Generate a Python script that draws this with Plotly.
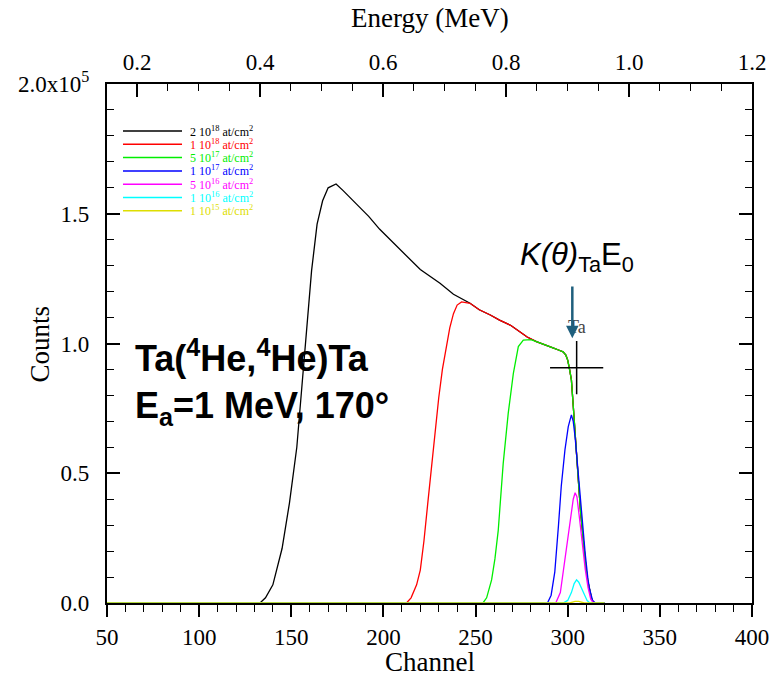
import plotly.graph_objects as go

# ---------------- data ----------------
# channel <-> energy calibration
ENERGY_AT_CH50 = 0.151
ENERGY_AT_CH400 = 1.2

series_names = [
    "2 10<sup>18</sup> at/cm<sup>2</sup>",
    "1 10<sup>18</sup> at/cm<sup>2</sup>",
    "5 10<sup>17</sup> at/cm<sup>2</sup>",
    "1 10<sup>17</sup> at/cm<sup>2</sup>",
    "5 10<sup>16</sup> at/cm<sup>2</sup>",
    "1 10<sup>16</sup> at/cm<sup>2</sup>",
    "1 10<sup>15</sup> at/cm<sup>2</sup>",
]
series_colors = ["#000000", "#ff0000", "#00ee00", "#0000ff", "#ff00ff", "#00ffff", "#dede00"]

# common high-energy part (surface edge) shared by the thick layers (counts in 1e5)
edge_ch = [247, 252, 258, 263, 269, 274, 278, 283, 288, 292, 295, 297.5, 299, 300, 301, 302,
           303, 304, 305, 306, 307, 308, 309, 310, 311, 312, 313, 314, 320]
edge_counts = [1.155, 1.13, 1.11, 1.09, 1.07, 1.045, 1.025, 1.007, 0.995, 0.983, 0.975, 0.968,
               0.955, 0.936, 0.90, 0.86, 0.76, 0.64, 0.55, 0.45, 0.35, 0.27, 0.20, 0.13, 0.08,
               0.04, 0.015, 0.0, 0.0]

black_ch = [50, 133, 136, 140, 145, 149, 153, 156, 158.5, 161, 164, 167, 170, 174.3, 178,
            185, 192, 198, 205, 213, 220, 230.7, 238]
black_counts = [0, 0, 0.02, 0.07, 0.21, 0.385, 0.60, 0.85, 1.064, 1.28, 1.46, 1.55, 1.60,
                1.615, 1.59, 1.54, 1.49, 1.44, 1.39, 1.333, 1.285, 1.232, 1.19]

red_ch = [50, 212.5, 215, 218, 220, 222, 224, 226, 228, 230, 232, 234, 236, 238, 240, 242.4]
red_counts = [0, 0, 0.02, 0.07, 0.127, 0.24, 0.38, 0.52, 0.66, 0.79, 0.90, 0.98, 1.06,
              1.115, 1.148, 1.16]

green_ch = [50, 254, 256, 258.7, 260.5, 262.3, 265, 267.7, 270.5, 273.2, 275.9, 277.7, 280]
green_counts = [0, 0, 0.02, 0.089, 0.17, 0.28, 0.538, 0.73, 0.885, 0.988, 1.013, 1.015, 1.015]

blue_ch = [50, 289, 291, 293, 295, 296.5, 298.5, 300.3, 302, 303, 304, 305, 306.5, 308,
           309.5, 311, 312, 313.5, 315, 320]
blue_counts = [0, 0, 0.03, 0.12, 0.30, 0.45, 0.59, 0.68, 0.725, 0.70, 0.64, 0.56, 0.42,
               0.29, 0.19, 0.09, 0.05, 0.01, 0, 0]

magenta_ch = [50, 293.5, 296, 298.5, 300, 301.5, 303, 304, 305, 306.5, 308, 309.5, 311,
              312.5, 314, 320]
magenta_counts = [0, 0, 0.04, 0.17, 0.25, 0.33, 0.40, 0.425, 0.41, 0.32, 0.22, 0.13, 0.06,
                  0.015, 0, 0]

cyan_ch = [50, 297.5, 300, 302, 303.5, 304.8, 306, 307.5, 309, 310.5, 312, 320]
cyan_counts = [0, 0, 0.01, 0.04, 0.075, 0.089, 0.08, 0.055, 0.03, 0.01, 0, 0]

yellow_ch = [50, 301, 304, 306, 309, 320]
yellow_counts = [0, 0, 0.006, 0.006, 0, 0]

# Ta surface marker (channel, counts) and arrow
ta_mark_ch, ta_mark_counts = 304.85, 0.907
arrow_ch, arrow_tip, arrow_tail = 302.5, 1.02, 1.225

# ---------------- figure ----------------
series = [
    (black_ch + edge_ch, black_counts + edge_counts),
    (red_ch + edge_ch, red_counts + edge_counts),
    (green_ch + edge_ch[7:], green_counts + edge_counts[7:]),
    (blue_ch, blue_counts),
    (magenta_ch, magenta_counts),
    (cyan_ch, cyan_counts),
    (yellow_ch, yellow_counts),
]

SERIF = "Liberation Serif"
SANS = "Liberation Sans"

fig = go.Figure()
for (xs, ys), name, col in zip(series, series_names, series_colors):
    fig.add_trace(go.Scatter(x=xs, y=ys, mode="lines", name=name,
                             line=dict(color=col, width=1.3), showlegend=False))

# invisible trace to bind top energy axis
fig.add_trace(go.Scatter(x=[ENERGY_AT_CH50, ENERGY_AT_CH400], y=[0, 0], xaxis="x2", yaxis="y",
                         mode="lines", line=dict(width=0), hoverinfo="skip", showlegend=False))

# crosshair marker
fig.add_trace(go.Scatter(x=[ta_mark_ch], y=[ta_mark_counts], mode="markers",
                         marker=dict(symbol="cross-thin", size=38,
                                     line=dict(color="black", width=1.5)),
                         showlegend=False, hoverinfo="skip"))

axis_common = dict(showgrid=False, zeroline=False, showline=True, linecolor="black",
                   linewidth=2.2, tickcolor="black", tickwidth=1.5,
                   tickfont=dict(family=SERIF, size=23, color="black"))

fig.update_layout(
    width=780, height=694,
    margin=dict(l=107, r=28, t=84, b=91),
    paper_bgcolor="white", plot_bgcolor="white",
    showlegend=False,
    xaxis=dict(range=[50, 400], tick0=50, dtick=50, ticks="outside", ticklen=12,
               minor=dict(dtick=10, tick0=50, ticks="outside", ticklen=7, tickwidth=1.2,
                          tickcolor="black"),
               **axis_common),
    xaxis2=dict(range=[ENERGY_AT_CH50, ENERGY_AT_CH400], overlaying="x", side="top",
                anchor="y", tick0=0.2, dtick=0.2, tickformat=".1f", ticks="inside",
                ticklen=13, ticklabelstandoff=3,
                minor=dict(dtick=0.05, tick0=0.2, ticks="inside", ticklen=7, tickwidth=1.2,
                           tickcolor="black"),
                **axis_common),
    yaxis=dict(range=[0, 2.0], tickvals=[0, 0.5, 1.0, 1.5, 2.0],
               ticktext=["0.0", "0.5", "1.0", "1.5", "2.0x10<sup>5</sup>"],
               ticks="inside", ticklen=13, mirror="ticks", ticklabelstandoff=11,
               minor=dict(dtick=0.1, tick0=0, ticks="inside", ticklen=7, tickwidth=1.2,
                          tickcolor="black"),
               **axis_common),
)

ann = []
# axis titles
ann.append(dict(text="Channel", xref="paper", yref="paper", x=0.5, y=-0.1137,
                xanchor="center", yanchor="middle", showarrow=False,
                font=dict(family=SERIF, size=27, color="black")))
ann.append(dict(text="Energy (MeV)", xref="paper", yref="paper", x=0.5, y=1.127,
                xanchor="center", yanchor="middle", showarrow=False,
                font=dict(family=SERIF, size=27, color="black")))
ann.append(dict(text="Counts", xref="paper", yref="paper", x=-0.104, y=0.5, textangle=-90,
                xanchor="center", yanchor="middle", showarrow=False,
                font=dict(family=SERIF, size=27, color="black")))

# legend (drawn box-less like the original)
shapes = []
for i, (name, col) in enumerate(zip(series_names, series_colors)):
    py = 131 + 13.3 * i
    yp = (603 - py) / 519
    shapes.append(dict(type="line", xref="paper", yref="paper", x0=0.0248, x1=0.1163,
                       y0=yp, y1=yp, line=dict(color=col, width=1.5)))
    ann.append(dict(text=name, xref="paper", yref="paper", x=0.1256, y=yp,
                    xanchor="left", yanchor="middle", showarrow=False,
                    font=dict(family=SERIF, size=12, color=col)))

# reaction text
ann.append(dict(text="<b>Ta(<sup>4</sup>He,<sup>4</sup>He)Ta</b>", xref="paper", yref="paper",
                x=0.0403, y=0.476, xanchor="left", yanchor="middle", showarrow=False,
                font=dict(family=SANS, size=36, color="black")))
ann.append(dict(text="<b>E<sub>a</sub>=1 MeV, 170°</b>", xref="paper", yref="paper",
                x=0.0403, y=0.3757, xanchor="left", yanchor="middle", showarrow=False,
                font=dict(family=SANS, size=36, color="black")))

# Ta label, arrow and kinematic label
ann.append(dict(text="Ta", x=ta_mark_ch, y=1.065, xref="x", yref="y", showarrow=False,
                font=dict(family=SERIF, size=18, color="#444444")))
ann.append(dict(text="", x=arrow_ch, y=arrow_tip, ax=arrow_ch, ay=arrow_tail,
                xref="x", yref="y", axref="x", ayref="y", showarrow=True,
                arrowhead=2, arrowsize=1, arrowwidth=2.5, arrowcolor="#1f5f7d"))
ann.append(dict(text="<i>K(θ)</i><sub>Ta</sub>E<sub>0</sub>", x=305, y=1.335, xref="x", yref="y",
                showarrow=False, font=dict(family=SANS, size=31, color="black")))

fig.update_layout(annotations=ann, shapes=shapes)
fig.write_html("out.html")
